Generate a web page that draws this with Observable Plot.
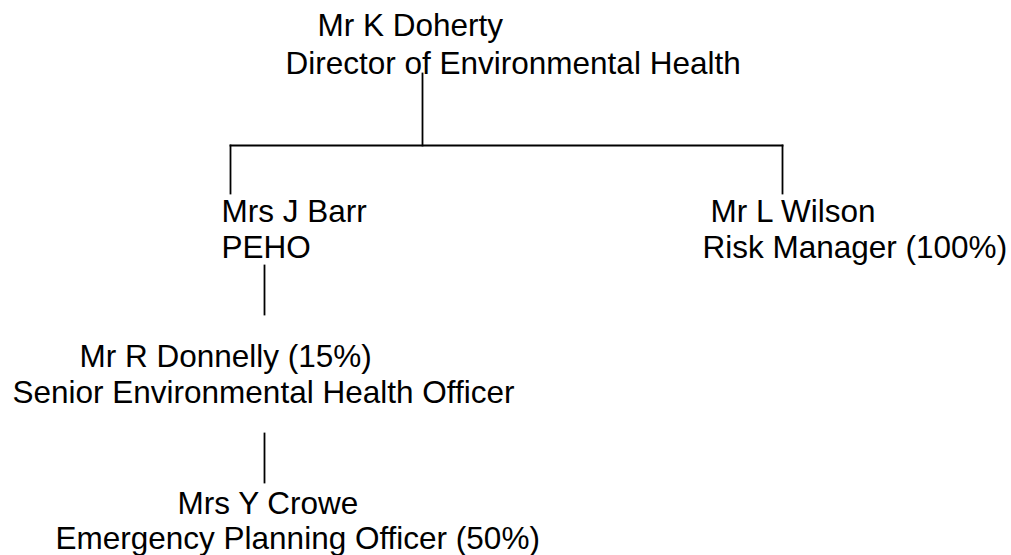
<!DOCTYPE html>
<html>
<head>
<meta charset="utf-8">
<script src="https://cdn.jsdelivr.net/npm/d3@7"></script>
<script src="https://cdn.jsdelivr.net/npm/@observablehq/plot@0.6"></script>
<style>
  html, body { margin: 0; padding: 0; background: #fff; }
  #chart svg { display: block; }
</style>
</head>
<body>
<div id="chart"></div>
<script>
// Org chart data
const names = ["Mr K Doherty", "Mrs J Barr", "Mr L Wilson", "Mr R Donnelly (15%)", "Mrs Y Crowe"];
const roles = ["Director of Environmental Health", "PEHO", "Risk Manager (100%)", "Senior Environmental Health Officer", "Emergency Planning Officer (50%)"];
const parents = [null, 0, 0, 1, 3];

// Layout (diagram placement, in pixel units of the 1011x555 frame)
const nameX = [317, 221, 710, 79, 177];
const nameY = [35, 221, 221, 366, 513];
const roleX = [285, 221, 702, 12, 55];
const roleY = [73, 257, 257, 402, 548];

// Connector segments
const segX1 = [422, 230, 230, 782, 264, 264];
const segY1 = [73, 145, 145, 145, 265, 433];
const segX2 = [422, 782, 230, 782, 264, 264];
const segY2 = [145, 145, 193, 193, 314, 482];

const nameRows = names.map((t, i) => ({t, x: nameX[i], y: nameY[i]}));
const roleRows = roles.map((t, i) => ({t, x: roleX[i], y: roleY[i]}));
const segs = segX1.map((x1, i) => ({x1, y1: segY1[i], x2: segX2[i], y2: segY2[i]}));

const font = "'Liberation Sans', Arial, Helvetica, sans-serif";

const chart = Plot.plot({
  width: 1011,
  height: 555,
  margin: 0,
  x: {domain: [0, 1011], range: [0, 1011], axis: null},
  y: {domain: [0, 555], range: [0, 555], axis: null},
  style: {background: "#fff", fontFamily: font},
  marks: [
    Plot.link(segs, {x1: "x1", y1: "y1", x2: "x2", y2: "y2", stroke: "#000", strokeWidth: 1.8, strokeLinecap: "square"}),
    Plot.text(nameRows, {x: "x", y: "y", text: "t", textAnchor: "start", lineAnchor: "bottom", fontSize: 31.5, fill: "#000", fontFamily: font}),
    Plot.text(roleRows, {x: "x", y: "y", text: "t", textAnchor: "start", lineAnchor: "bottom", fontSize: 31.5, fill: "#000", fontFamily: font})
  ]
});
document.getElementById("chart").appendChild(chart);
</script>
</body>
</html>
